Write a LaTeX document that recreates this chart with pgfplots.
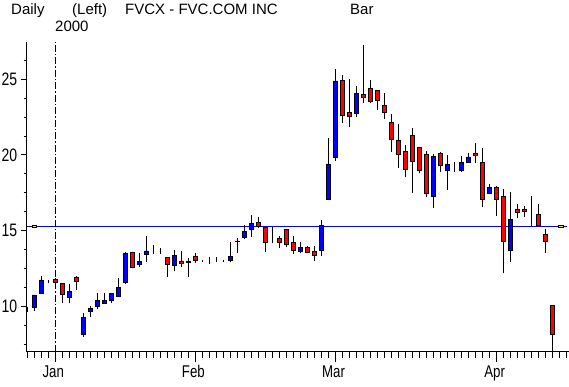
\documentclass[border=0pt]{standalone}
\usepackage{pgfplots}
\pgfplotsset{compat=1.18}
\usepackage{pgfplotstable}
\usepackage{fontspec}
\setmainfont{Liberation Sans}
\newfontfamily\narrowfont{Liberation Sans}[FakeStretch=0.78]

\pgfplotstableread{
i O H L C
-4 9.90 10.00 9.65 9.90
-3 9.93 10.77 9.74 10.77
-2 10.88 12.02 10.82 11.76
-1 11.74 11.74 11.54 11.74
0 11.81 11.87 11.30 11.61
1 11.54 11.58 10.26 10.82
2 10.62 11.50 10.22 11.03
3 11.96 12.02 11.10 11.65
4 8.15 9.60 8.02 9.30
5 9.67 10.05 9.30 9.89
6 10.03 10.92 9.83 10.42
7 10.20 10.92 10.16 10.42
8 10.44 10.92 10.26 10.88
9 10.69 11.91 10.62 11.28
10 11.58 13.63 11.52 13.52
11 13.59 13.63 12.53 12.60
12 12.80 13.52 12.64 12.99
13 13.45 14.66 12.97 13.67
14 13.52 14.07 13.45 13.52
15 13.50 13.85 13.45 13.50
16 13.26 13.26 11.98 12.80
17 12.70 13.74 12.37 13.39
18 13.01 13.67 12.64 12.83
19 13.00 13.19 11.98 12.94
20 13.32 13.56 12.90 13.06
21 12.99 13.05 12.92 12.99
22 12.99 13.26 12.80 12.99
23 12.99 13.30 12.95 12.99
24 12.99 13.05 12.92 12.99
25 13.06 14.27 12.95 13.32
26 14.33 14.53 13.52 14.27
27 14.55 15.39 14.44 14.97
28 15.10 16.05 14.61 15.50
29 15.56 15.89 15.17 15.32
30 15.23 15.27 13.63 14.25
31 14.35 15.23 14.18 14.35
32 14.48 14.64 13.89 14.25
33 15.10 15.10 13.92 14.11
34 14.25 14.68 13.49 13.72
35 13.63 14.25 13.52 13.92
36 13.92 14.02 13.52 13.59
37 13.65 14.02 12.99 13.39
38 13.69 15.72 13.32 15.37
39 17.08 21.10 17.00 19.41
40 19.85 25.67 19.62 24.88
41 24.94 25.27 22.13 22.62
42 22.83 25.01 21.87 22.55
43 22.75 24.55 22.48 24.04
44 24.00 27.25 23.41 23.80
45 24.40 24.94 23.41 23.54
46 24.27 24.27 22.97 23.61
47 23.28 24.09 22.37 22.81
48 22.15 22.70 20.22 21.04
49 20.99 22.04 19.12 20.05
50 20.26 20.64 18.53 19.06
51 21.30 21.76 17.51 19.58
52 20.51 20.51 18.79 18.97
53 20.07 20.24 17.25 17.47
54 17.25 20.07 16.53 19.91
55 20.11 20.20 18.90 19.29
56 18.99 20.00 17.69 19.38
57 18.99 19.52 18.90 18.99
58 18.99 19.93 18.90 19.52
59 19.54 20.11 19.45 19.87
60 20.09 20.81 19.49 20.00
61 19.52 20.44 16.59 17.08
62 17.47 18.09 17.41 17.87
63 17.87 17.96 16.00 17.08
64 17.28 17.74 12.24 14.29
65 13.69 17.54 12.97 15.76
66 16.42 16.77 15.87 16.20
67 16.42 16.64 15.93 16.31
68 16.35 17.30 15.32 16.35
69 16.05 16.77 15.30 15.34
70 14.79 15.10 13.56 14.29
71 10.05 10.11 7.00 8.20
}\candles

\pgfplotsset{
  base/.style={
    width=542.3pt, height=310pt, scale only axis,
    at={(26.7pt,35pt)}, anchor=south west,
    xmin=-4.08, xmax=73.32, ymin=7.01, ymax=27.45,
  },
}

\begin{document}
\begin{tikzpicture}
\useasboundingbox (0,0) rectangle (569pt,387pt);

% x axis, wicks, reference lines
\begin{axis}[base,
  axis x line*=bottom, axis y line=none,
  x axis line style={-, line width=1pt},
  xtick={0,20,40,63}, xticklabels={Jan,Feb,Mar,Apr},
  minor xtick={-4,-3,...,73},
  ytick=\empty,
  tick align=outside,
  major tick length=10pt, minor tick length=6pt,
  tick style={black, line width=1pt},
  xticklabel style={font={\narrowfont\fontsize{17pt}{17pt}\selectfont}, xshift=-2pt},
]
\addplot[blue, line width=1pt] coordinates {(-4.08,15.3) (73,15.3)};
\addplot[black, line width=0.9pt, dash pattern=on 7pt off 2pt on 1.5pt off 2pt] coordinates {(0,7.01) (0,27.45)};
\addplot[draw=none, mark=none,
  error bars/.cd, y dir=plus, y explicit, error mark=none,
  error bar style={draw=black, line width=1.3pt, solid}]
  table[x=i, y=L, y error expr=\thisrow{H}-\thisrow{L}] {\candles};
\addplot[only marks, mark=square*, mark size=2pt,
  mark options={fill=yellow, draw=black, line width=0.6pt, xscale=1.2, yscale=0.7}]
  coordinates {(-3,15.3) (72.2,15.3)};
\end{axis}

% candle bodies
\begin{axis}[base, hide axis, ybar stacked, bar width=4pt]
\addplot[draw=none, fill=none] table[x=i, y expr={min(\thisrow{O},\thisrow{C})}] {\candles};
\addplot[fill=blue, draw=black, line width=0.8pt] table[x=i, y expr={max(\thisrow{C}-\thisrow{O},0)}] {\candles};
\addplot[fill=red, draw=black, line width=0.8pt] table[x=i, y expr={max(\thisrow{O}-\thisrow{C},0)}] {\candles};
\end{axis}

% y axis
\begin{axis}[base,
  axis y line*=left, axis x line=none,
  y axis line style={-, line width=1pt},
  xtick=\empty,
  ytick={10,15,20,25},
  minor ytick={7.5,8.75,11.25,12.5,13.75,16.25,17.5,18.75,21.25,22.5,23.75,26.25},
  tick align=outside,
  major tick length=6pt, minor tick length=3pt,
  tick style={black, line width=1pt},
  /pgf/number format/assume math mode=true,
  yticklabel style={font={\narrowfont\fontsize{18pt}{18pt}\selectfont}},
]
\end{axis}

% titles
\node[anchor=base west, inner sep=0pt, font={\fontsize{15pt}{15pt}\selectfont}] at (11pt,372pt) {Daily};
\node[anchor=base west, inner sep=0pt, font={\fontsize{15pt}{15pt}\selectfont}] at (72pt,372pt) {(Left)};
\node[anchor=base west, inner sep=0pt, font={\fontsize{15pt}{15pt}\selectfont}] at (125pt,372pt) {FVCX - FVC.COM INC};
\node[anchor=base west, inner sep=0pt, font={\fontsize{15pt}{15pt}\selectfont}] at (350pt,372pt) {Bar};
\node[anchor=base west, inner sep=0pt, font={\fontsize{15pt}{15pt}\selectfont}] at (55pt,355pt) {2000};
\end{tikzpicture}
\end{document}
